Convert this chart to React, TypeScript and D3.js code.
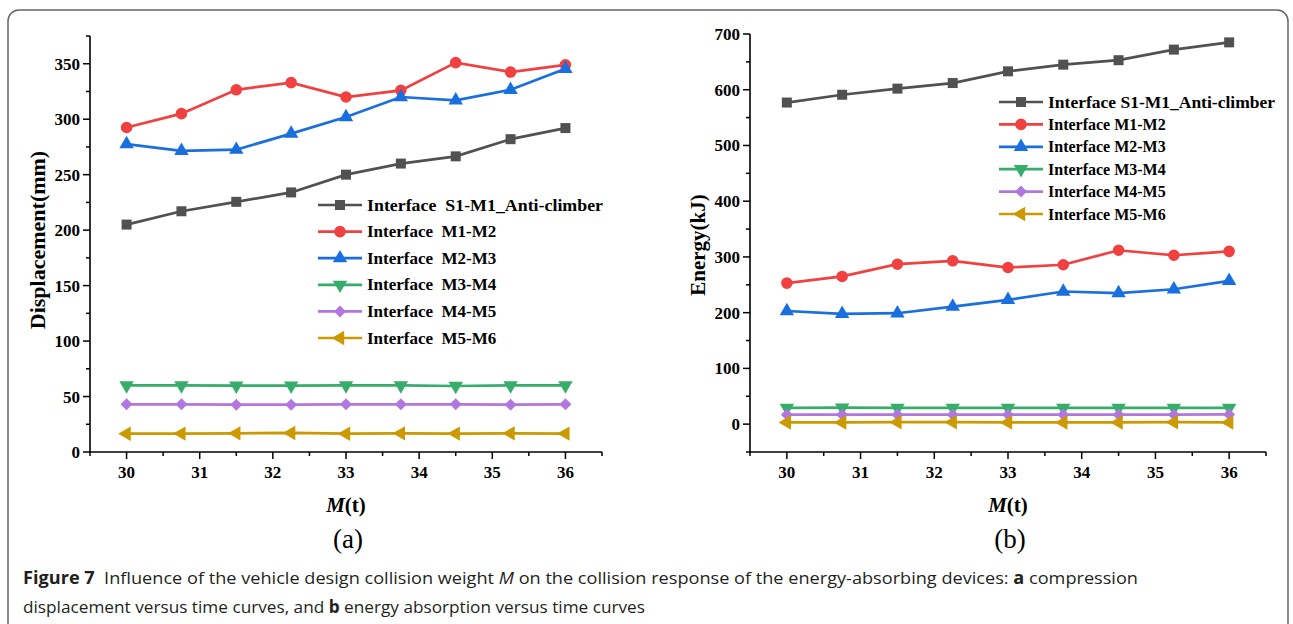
import React from "react";
import * as d3 from "d3";

// ---------- data ----------
const massValues = [30, 30.75, 31.5, 32.25, 33, 33.75, 34.5, 35.25, 36];
const seriesNamesA = [
  "Interface  S1-M1_Anti-climber",
  "Interface  M1-M2",
  "Interface  M2-M3",
  "Interface  M3-M4",
  "Interface  M4-M5",
  "Interface  M5-M6",
];
const seriesNamesB = [
  "Interface S1-M1_Anti-climber",
  "Interface M1-M2",
  "Interface M2-M3",
  "Interface M3-M4",
  "Interface M4-M5",
  "Interface M5-M6",
];
// (a) displacement (mm)
const dispS1M1 = [205, 217, 225.5, 234, 250, 260, 266.5, 282, 292];
const dispM1M2 = [292.5, 305, 326.5, 333, 320, 326, 351, 342.5, 349];
const dispM2M3 = [277.5, 271.5, 272.5, 287, 302, 320, 317, 326.5, 345.5];
const dispM3M4 = [60, 60, 59.8, 59.8, 60, 60, 59.5, 60, 60];
const dispM4M5 = [43, 43, 42.7, 42.7, 43, 43, 43, 42.7, 43];
const dispM5M6 = [16.5, 16.6, 16.8, 17.2, 16.5, 16.8, 16.6, 16.8, 16.6];
// (b) energy (kJ)
const engS1M1 = [577, 591, 602, 612, 633, 645, 653, 672, 685];
const engM1M2 = [253, 265, 287, 293, 281, 286, 312, 303, 310];
const engM2M3 = [203, 198, 199, 211, 223, 238, 235, 242, 257];
const engM3M4 = [29, 29.5, 29, 29, 29, 29, 29, 29, 29];
const engM4M5 = [17, 17, 17, 17, 17, 17, 17, 17, 17.5];
const engM5M6 = [3, 3, 3.5, 3.5, 3, 3, 3, 3.5, 3];

const xMajorTicks = [30, 31, 32, 33, 34, 35, 36];
const yTicksA = [0, 50, 100, 150, 200, 250, 300, 350];
const yTicksB = [0, 100, 200, 300, 400, 500, 600, 700];

// ---------- styles ----------
const colors = ["#515151", "#F14040", "#1A6FDF", "#37AD6B", "#B177DE", "#CC9900"];
const markerKinds = ["square", "circle", "up", "down", "diamond", "left"];
const SERIF = "'Liberation Serif', 'Times New Roman', serif";
const SANS = "'Open Sans', 'Noto Sans', sans-serif";

function markerPath(kind: string) {
  switch (kind) {
    case "square":
      return { d: d3.symbol(d3.symbolSquare, 100)()!, rot: 0 };
    case "circle":
      return { d: d3.symbol(d3.symbolCircle, 105)()!, rot: 0 };
    case "up":
      return { d: d3.symbol(d3.symbolTriangle, 90)()!, rot: 0 };
    case "down":
      return { d: d3.symbol(d3.symbolTriangle, 90)()!, rot: 180 };
    case "diamond":
      return { d: d3.symbol(d3.symbolSquare, 72)()!, rot: 45 };
    default:
      return { d: d3.symbol(d3.symbolTriangle, 90)()!, rot: -90 };
  }
}

type PanelProps = {
  series: number[][];
  names: string[];
  x0: number;
  x1: number;
  yTop: number;
  yBottom: number;
  yDomain: [number, number];
  yTicks: number[];
  yMinorStep: number;
  yLabel: string;
  yLabelX: number;
  yLabelY: number;
  yLabelFont: number;
  legendX: number;
  legendY: number;
  legendGap: number;
  legendFont: number;
  legendTextLen: number;
  panelLabel: string;
};

function Panel(p: PanelProps) {
  const x = d3.scaleLinear().domain([29.5, 36.5]).range([p.x0, p.x1]);
  const y = d3.scaleLinear().domain(p.yDomain).range([p.yBottom, p.yTop]);
  const line = d3
    .line<number>()
    .x((_, i) => x(massValues[i]))
    .y((v) => y(v));
  const xMinor = d3.range(29.5, 36.51, 0.5).filter((v) => !xMajorTicks.includes(v));
  const yMinor = d3
    .range(p.yDomain[0], p.yDomain[1] + 0.01, p.yMinorStep)
    .filter((v) => !p.yTicks.includes(v));
  const cx = (p.x0 + p.x1) / 2;
  return (
    <g>
      {p.series.map((vals, si) => {
        const m = markerPath(markerKinds[si]);
        return (
          <g key={si}>
            <path d={line(vals)!} fill="none" stroke={colors[si]} strokeWidth={2.7} />
            {vals.map((v, i) => (
              <path
                key={i}
                d={m.d}
                fill={colors[si]}
                transform={`translate(${x(massValues[i])},${y(v)}) rotate(${m.rot})`}
              />
            ))}
          </g>
        );
      })}
      <line x1={p.x0} x2={p.x0} y1={p.yTop} y2={p.yBottom} stroke="#000" strokeWidth={1.6} />
      <line x1={p.x0} x2={p.x1} y1={p.yBottom} y2={p.yBottom} stroke="#000" strokeWidth={1.6} />
      {xMajorTicks.map((t) => (
        <g key={"xt" + t}>
          <line x1={x(t)} x2={x(t)} y1={p.yBottom} y2={p.yBottom + 7} stroke="#000" strokeWidth={1.5} />
          <text x={x(t)} y={p.yBottom + 26} textAnchor="middle" fontFamily={SERIF} fontWeight="bold" fontSize={17}>
            {t}
          </text>
        </g>
      ))}
      {xMinor.map((t) => (
        <line key={"xm" + t} x1={x(t)} x2={x(t)} y1={p.yBottom} y2={p.yBottom + 4} stroke="#000" strokeWidth={1.5} />
      ))}
      {p.yTicks.map((t) => (
        <g key={"yt" + t}>
          <line x1={p.x0 - 7} x2={p.x0} y1={y(t)} y2={y(t)} stroke="#000" strokeWidth={1.5} />
          <text x={p.x0 - 10} y={y(t) + 6} textAnchor="end" fontFamily={SERIF} fontWeight="bold" fontSize={17}>
            {t}
          </text>
        </g>
      ))}
      {yMinor.map((t) => (
        <line key={"ym" + t} x1={p.x0 - 4} x2={p.x0} y1={y(t)} y2={y(t)} stroke="#000" strokeWidth={1.5} />
      ))}
      <text
        transform={`translate(${p.yLabelX},${p.yLabelY}) rotate(-90)`}
        textAnchor="middle"
        fontFamily={SERIF}
        fontWeight="bold"
        fontSize={p.yLabelFont}
      >
        {p.yLabel}
      </text>
      <text x={cx} y={p.yBottom + 60} textAnchor="middle" fontFamily={SERIF} fontWeight="bold" fontSize={21}>
        <tspan fontStyle="italic">M</tspan>
        <tspan>(t)</tspan>
      </text>
      <text x={cx + 2} y={p.yBottom + 96} textAnchor="middle" fontFamily={SERIF} fontSize={27}>
        {p.panelLabel}
      </text>
      {p.names.map((n, si) => {
        const m = markerPath(markerKinds[si]);
        const ly = p.legendY + si * p.legendGap;
        return (
          <g key={"lg" + si}>
            <line x1={p.legendX} x2={p.legendX + 44} y1={ly} y2={ly} stroke={colors[si]} strokeWidth={2.7} />
            <path d={m.d} fill={colors[si]} transform={`translate(${p.legendX + 22},${ly}) rotate(${m.rot})`} />
            <text
              x={p.legendX + 49}
              y={ly + 5.5}
              fontFamily={SERIF}
              fontWeight="bold"
              fontSize={p.legendFont}
              style={{ whiteSpace: "pre" }}
              {...(si === 0 ? { textLength: p.legendTextLen, lengthAdjust: "spacingAndGlyphs" } : {})}
            >
              {n}
            </text>
          </g>
        );
      })}
    </g>
  );
}

export default function App() {
  return (
    <svg width={1293} height={624} style={{ position: "absolute", left: 0, top: 0, background: "#fff" }}>
      <rect x={8} y={10} width={1280} height={640} rx={11} fill="#fff" stroke="#666" strokeWidth={1.5} />
      <Panel
        series={[dispS1M1, dispM1M2, dispM2M3, dispM3M4, dispM4M5, dispM5M6]}
        names={seriesNamesA}
        x0={90}
        x1={602}
        yTop={36}
        yBottom={452}
        yDomain={[0, 375]}
        yTicks={yTicksA}
        yMinorStep={25}
        yLabel="Displacement(mm)"
        yLabelX={45}
        yLabelY={240}
        yLabelFont={22}
        legendX={318}
        legendY={205}
        legendGap={26.6}
        legendFont={17}
        legendTextLen={236}
        panelLabel="(a)"
      />
      <Panel
        series={[engS1M1, engM1M2, engM2M3, engM3M4, engM4M5, engM5M6]}
        names={seriesNamesB}
        x0={750}
        x1={1266}
        yTop={34}
        yBottom={452}
        yDomain={[-50, 700]}
        yTicks={yTicksB}
        yMinorStep={50}
        yLabel="Energy(kJ)"
        yLabelX={705}
        yLabelY={245}
        yLabelFont={21}
        legendX={999}
        legendY={102}
        legendGap={22.4}
        legendFont={16}
        legendTextLen={227}
        panelLabel="(b)"
      />
      <text
        x={23}
        y={584}
        fontFamily={SANS}
        fontSize={17}
        fill="#231f20"
        textLength={1115}
        lengthAdjust="spacingAndGlyphs"
        style={{ whiteSpace: "pre" }}
      >
        <tspan fontWeight="bold">Figure 7</tspan>
        <tspan>{"  Influence of the vehicle design collision weight "}</tspan>
        <tspan fontStyle="italic">M</tspan>
        <tspan>{" on the collision response of the energy-absorbing devices: "}</tspan>
        <tspan fontWeight="bold">a</tspan>
        <tspan>{" compression"}</tspan>
      </text>
      <text
        x={23}
        y={613}
        fontFamily={SANS}
        fontSize={17}
        fill="#231f20"
        textLength={622}
        lengthAdjust="spacingAndGlyphs"
        style={{ whiteSpace: "pre" }}
      >
        <tspan>{"displacement versus time curves, and "}</tspan>
        <tspan fontWeight="bold">b</tspan>
        <tspan>{" energy absorption versus time curves"}</tspan>
      </text>
    </svg>
  );
}
